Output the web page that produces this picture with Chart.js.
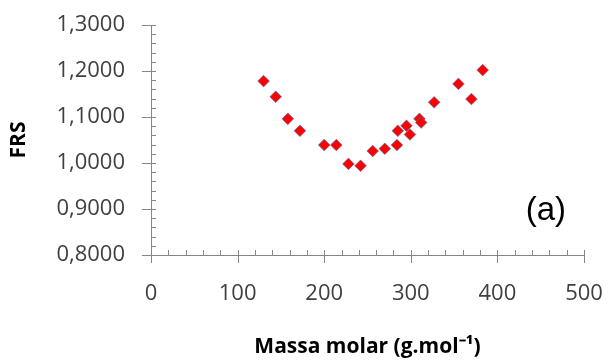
<!DOCTYPE html>
<html>
<head>
<meta charset="utf-8">
<script src="https://cdn.jsdelivr.net/npm/chart.js@4.4.1/dist/chart.umd.min.js"></script>
<style>
  html, body { margin: 0; padding: 0; background: #fff; }
  #wrap { width: 608px; height: 361px; }
</style>
</head>
<body>
<div id="wrap"><canvas id="myChart" width="608" height="361"></canvas></div>
<script>
// molar mass (g/mol) and FRS
const massaMolar = [130, 144, 158, 172, 200, 214, 228, 242, 256, 270, 284, 285, 295, 299, 310, 312, 327, 355, 370, 383];
const frs = [1.178, 1.144, 1.096, 1.070, 1.039, 1.039, 0.998, 0.994, 1.026, 1.031, 1.039, 1.070, 1.081, 1.062, 1.096, 1.088, 1.132, 1.172, 1.139, 1.202];

const xTicks = [0, 100, 200, 300, 400, 500];
const yTicks = [0.8, 0.9, 1.0, 1.1, 1.2, 1.3];
const panelLabel = "(a)";

const axisGray = "#868686";
const textGray = "#404040";
const fontName = "Open Sans";

// axis lines + major/minor tick marks, Excel style
const axesPlugin = {
  id: "excelAxes",
  afterDraw(chart) {
    const c = chart.ctx;
    const xs = chart.scales.x;
    const ys = chart.scales.y;
    const x0 = xs.getPixelForValue(xTicks[0]);
    const y0 = ys.getPixelForValue(yTicks[0]);
    c.save();
    c.strokeStyle = axisGray;
    c.lineWidth = 1;
    c.beginPath();
    // axes
    c.moveTo(Math.round(x0) + 0.5, ys.getPixelForValue(yTicks[yTicks.length - 1]));
    c.lineTo(Math.round(x0) + 0.5, y0);
    c.moveTo(x0, Math.round(y0) + 0.5);
    c.lineTo(xs.getPixelForValue(xTicks[xTicks.length - 1]), Math.round(y0) + 0.5);
    // y ticks every 0.02
    for (let i = 0; i <= 25; i++) {
      const py = Math.round(ys.getPixelForValue(0.8 + i * 0.02)) + 0.5;
      const major = i % 5 === 0;
      c.moveTo(x0 - (major ? 9 : 0), py);
      c.lineTo(x0 + 5, py);
    }
    // x ticks every 20
    for (let i = 0; i <= 25; i++) {
      const px = Math.round(xs.getPixelForValue(i * 20)) + 0.5;
      const major = i % 5 === 0;
      c.moveTo(px, y0 - 5);
      c.lineTo(px, y0 + (major ? 8 : 0));
    }
    c.stroke();

    // panel label
    c.fillStyle = "#000";
    c.font = "33px 'Liberation Sans', Arial, sans-serif";
    c.textAlign = "center";
    c.textBaseline = "middle";
    c.fillText(panelLabel, xs.getPixelForValue(456), ys.getPixelForValue(0.895));
    c.restore();
  },
};

function drawChart() {
  const ctx = document.getElementById("myChart");
  new Chart(ctx, {
    type: "scatter",
    data: {
      datasets: [
        {
          label: "FRS",
          data: massaMolar.map((m, i) => ({ x: m, y: frs[i] })),
          pointStyle: "rectRot",
          pointRadius: 5.8,
          pointHoverRadius: 5.8,
          backgroundColor: "#ff0000",
          borderColor: "rgba(90,110,170,0.7)",
          borderWidth: 1,
        },
      ],
    },
    options: {
      responsive: false,
      animation: false,
      layout: { padding: { top: 25, right: 24, left: 0, bottom: 0 } },
      plugins: {
        legend: { display: false },
        tooltip: { enabled: false },
      },
      scales: {
        x: {
          type: "linear",
          min: 0,
          max: 500,
          afterBuildTicks: (s) => { s.ticks = xTicks.map((v) => ({ value: v })); },
          afterFit: (s) => { s.height = 106; },
          // invisible tick marks only to push the labels away from the axis
          grid: { display: false, drawTicks: true, tickLength: 26 },
          border: { display: false },
          ticks: {
            color: textGray,
            font: { family: fontName, size: 22 },
            padding: 0,
            maxRotation: 0,
          },
          title: {
            display: true,
            text: "Massa molar (g.mol⁻¹)",
            color: "#000",
            font: { family: fontName, size: 21, weight: "bold" },
            padding: { top: 0, bottom: 1 },
          },
        },
        y: {
          type: "linear",
          min: 0.8,
          max: 1.3,
          afterBuildTicks: (s) => { s.ticks = yTicks.map((v) => ({ value: v })); },
          afterFit: (s) => { s.width = 151; },
          grid: { display: false, drawTicks: true, tickLength: 26 },
          border: { display: false },
          ticks: {
            color: textGray,
            font: { family: fontName, size: 22 },
            padding: 0,
            callback: (v) => v.toFixed(4).replace(".", ","),
          },
          title: {
            display: true,
            text: "FRS",
            color: "#000",
            font: { family: fontName, size: 21, weight: "bold" },
            padding: { top: 6, bottom: 0 },
          },
        },
      },
    },
    plugins: [axesPlugin],
  });
}

Promise.all([
  document.fonts.load("22px '" + fontName + "'"),
  document.fonts.load("bold 21px '" + fontName + "'"),
]).then(drawChart, drawChart);
</script>
</body>
</html>
